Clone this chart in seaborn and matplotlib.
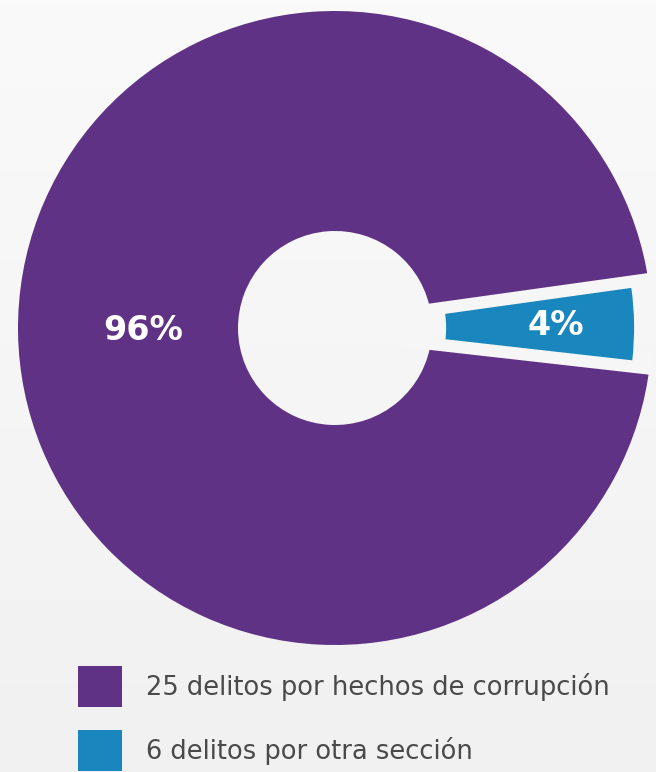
import matplotlib
matplotlib.use("Agg")
import matplotlib.pyplot as plt
import seaborn as sns
import numpy as np
from matplotlib.patches import Patch
from matplotlib.colors import LinearSegmentedColormap, to_rgb

# data
categories = ["25 delitos por hechos de corrupción", "6 delitos por otra sección"]
shares = [96, 4]
pct_labels = ["96%", "4%"]
colors = ["#5f3285", "#1a86be"]

BG_TOP = "#fafafa"
BG_BOT = "#f1f1f1"
GAP = "#f6f6f6"
sns.set_theme(style="white")
plt.rcParams["font.family"] = ["DejaVu Sans"]

W, H = 656, 772
fig = plt.figure(figsize=(W / 100, H / 100), dpi=100, facecolor=GAP)

# soft vertical gradient background
bg_ax = fig.add_axes([0, 0, 1, 1], zorder=-10)
cmap = LinearSegmentedColormap.from_list("bg", [to_rgb(BG_BOT), to_rgb(BG_TOP)])
grad = np.linspace(0, 1, 256).reshape(-1, 1)
bg_ax.imshow(grad, aspect="auto", cmap=cmap, origin="lower", extent=[0, 1, 0, 1])
bg_ax.axis("off")

R_PX = 317.0
cx, cy = 335.0, H - 328.0
ax = fig.add_axes([(cx - R_PX) / W, (cy - R_PX) / H, 2 * R_PX / W, 2 * R_PX / H])
ax.patch.set_alpha(0)

blue_mid = 0.75
start = blue_mid + 360 * shares[1] / sum(shares) / 2
wedges, texts = ax.pie(
    shares,
    colors=colors,
    startangle=start,
    counterclock=True,
    radius=1.0,
    explode=[0, 0.0315],
    wedgeprops=dict(width=0.694, linewidth=0),
)
wedges[0].set_zorder(1)
# blue wedge: narrower ring, drawn above the gap lines
wedges[1].set_radius(0.912)
wedges[1].set_width(0.593)
wedges[1].set_zorder(3)

# gaps along the purple wedge's two straight edges
for th in (wedges[0].theta1, wedges[0].theta2):
    a = np.deg2rad(th)
    ax.plot([0.2 * np.cos(a), 1.08 * np.cos(a)], [0.2 * np.sin(a), 1.08 * np.sin(a)],
            color=GAP, lw=16, solid_capstyle="butt", zorder=2)

# percentage labels placed along each wedge's mid-angle
dists = [0.606, 0.697]
for w, lab, d in zip(wedges, pct_labels, dists):
    ang = np.deg2rad((w.theta1 + w.theta2) / 2)
    ax.text(d * np.cos(ang), d * np.sin(ang), lab, ha="center", va="center",
            color="white", fontsize=24, fontweight="bold", zorder=5)

ax.set_xlim(-1, 1)
ax.set_ylim(-1, 1)
ax.set_aspect("auto")
ax.axis("off")

handles = [Patch(facecolor=c, edgecolor="none") for c in colors]
fs = 18.5
fpx = fs * 100 / 72
hh = (41 / fpx - 0.245) / 0.65
leg = fig.legend(handles, categories, loc="upper left",
                 bbox_to_anchor=(78 / W, 1 - 666 / H),
                 frameon=False, fontsize=fs, borderpad=0, borderaxespad=0,
                 handlelength=44 / fpx, handleheight=hh, handletextpad=24 / fpx,
                 labelspacing=23 / fpx, labelcolor="#4a4a4a")

fig.savefig("out.png", dpi=100, facecolor=GAP)
